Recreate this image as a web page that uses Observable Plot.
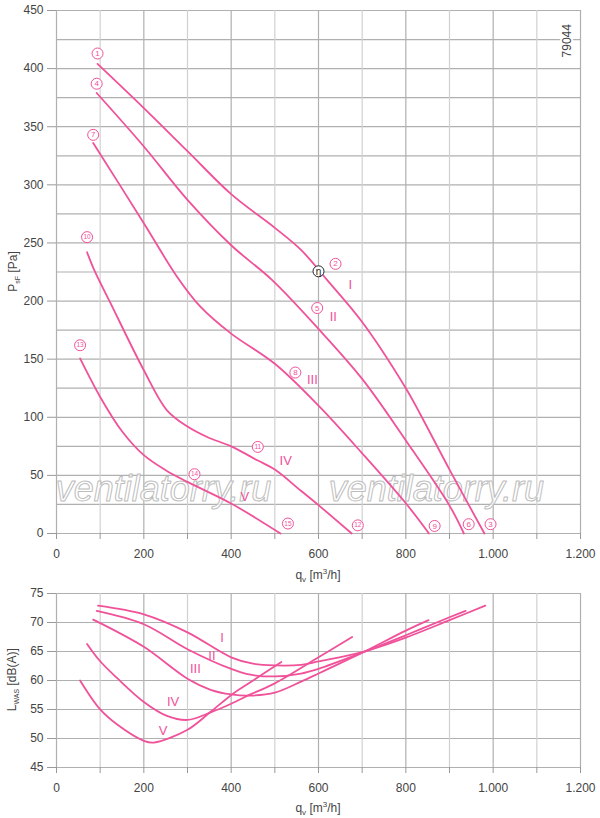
<!DOCTYPE html>
<html><head><meta charset="utf-8">
<script src="https://cdn.jsdelivr.net/npm/d3@7"></script>
<script src="https://cdn.jsdelivr.net/npm/@observablehq/plot@0.6"></script>
<style>
body{margin:0;background:#fff;}
#wrap{position:relative;width:600px;height:818px;font-family:"Liberation Sans",Arial,sans-serif;}
#topChart{position:absolute;left:0;top:0;}
#botChart{position:absolute;left:0;top:585px;}
</style></head><body><div id="wrap"><div id="topChart"></div><div id="botChart"></div></div>
<script>
// ---------- data: pressure curves (top) ----------
const speeds = ["I","II","III","IV","V"];
const pI_q   = [94,200,300,400,500,560,620,700,800,834,900,980];
const pI_v   = [404,366,329,292,263,244,218,182,125,102,55,0];
const pII_q  = [92,200,300,400,494,600,700,800,900,933];
const pII_v  = [379,333,287,248,218,176,133,80,24,0];
const pIII_q = [84,200,276,330,400,500,600,700,800,853];
const pIII_v = [336,267,221,195,172,146,110,69,26,0];
const pIV_q  = [70,86,124,200,253,300,345,400,460,500,559,600,676];
const pIV_v  = [242,227,198,140.5,106,92,83,75,63,55,37,24.4,0];
const pV_q   = [54,100,150,200,250,300,400,513];
const pV_v   = [150.6,117.5,88,67.4,54.5,44.4,25.8,0];

// ---------- data: sound power curves (bottom) ----------
const lI_q   = [95,200,300,400,450,500,560,600,700,800,900,982];
const lI_v   = [72.9,71.4,68.3,64.0,62.9,62.6,62.7,63.3,64.9,67.4,70.4,72.9];
const lII_q  = [92,200,300,400,444,500,560,600,700,800,900,937];
const lII_v  = [72.0,69.7,65.4,62.0,61.0,60.7,61.2,62.0,64.8,67.8,70.9,72.0];
const lIII_q = [84,100,200,300,353,400,444,500,560,600,700,800,852];
const lIII_v = [70.5,69.9,65.8,60.3,58.4,57.6,57.4,57.9,59.8,61.2,64.8,68.6,70.4];
const lIV_q  = [70,99,139,200,253,300,353,400,444,500,600,677];
const lIV_v  = [66.3,63.4,60.4,56.3,53.9,53.2,54.5,56.0,57.6,59.5,64.0,67.5];
const lV_q   = [54,99,139,200,223,300,353,402,444,515];
const lV_v   = [60.0,55.1,52.4,49.6,49.3,51.5,54.6,57.6,59.7,63.2];

// ---------- annotations ----------
const markerText = ["1","2","3","4","5","6","7","8","9","10","11","12","13","14","15"];
const markerQ    = [94,639,994,92,597,944,84,547,866,70,461,690,54,316,530];
const markerP    = [413,232,8,387,194,8,343,138.5,6.5,255,74.5,7,162,51,8.6];
const etaQ = [600], etaP = [225.6];
const romanTopQ = [673,634,586,525,431];
const romanTopP = [214,186,132,62.5,31.5];
const romanBotQ = [379,356,318,267,244];
const romanBotL = [67.4,64.3,62.0,56.4,51.3];
const wmQ = [245,870], wmP = [38,38];
const wmText = "ventilatorry.ru";
const codeText = "79044", codeQ = [1170], codeP = [424];

const xTicks = [0,100,200,300,400,500,600,700,800,900,1000,1100,1200];
const yTicksTop = [0,50,100,150,200,250,300,350,400,450];
const yGridTop = [0,25,50,75,100,125,150,175,200,225,250,275,300,325,350,375,400,425,450];
const yTicksBot = [45,50,55,60,65,70,75];

// ---------- helpers ----------
const pink = "#f0529a";
const zip = (s,q,v) => q.map((x,i)=>({s, q:x, v:v[i]}));
const pressure = [
  ...zip("I",pI_q,pI_v), ...zip("II",pII_q,pII_v), ...zip("III",pIII_q,pIII_v),
  ...zip("IV",pIV_q,pIV_v), ...zip("V",pV_q,pV_v)];
const sound = [
  ...zip("I",lI_q,lI_v), ...zip("II",lII_q,lII_v), ...zip("III",lIII_q,lIII_v),
  ...zip("IV",lIV_q,lIV_v), ...zip("V",lV_q,lV_v)];
const markers = markerText.map((t,i)=>({t, q:markerQ[i], v:markerP[i]}));
const etaPts = etaQ.map((q,i)=>({q, v:etaP[i]}));
const romTop = speeds.map((t,i)=>({t, q:romanTopQ[i], v:romanTopP[i]}));
const romBot = speeds.map((t,i)=>({t, q:romanBotQ[i], v:romanBotL[i]}));
const wm = wmQ.map((q,i)=>({q, v:wmP[i]}));
const codePts = codeQ.map((q,i)=>({q, v:codeP[i]}));
const fmtX = d => d % 200 !== 0 ? "" : (d >= 1000 ? d3.format(",")(d).replace(",", ".") : String(d));
const majorX = xTicks.filter(d => d % 200 === 0);
const minorX = xTicks.filter(d => d % 200 !== 0);
const gridMajor = "#b0b0b0", gridMinor = "#d0d0d0";
const style = {fontFamily:"'Liberation Sans',Arial,sans-serif", fontSize:"12px", color:"#444", background:"white", overflow:"visible"};

// ---------- top chart ----------
const topSvg = Plot.plot({
  width:600, height:585, marginLeft:56, marginRight:20, marginTop:10, marginBottom:52,
  x:{domain:[0,1200]}, y:{domain:[0,450]}, style,
  marks:[
    Plot.ruleY(yGridTop, {stroke:gridMajor, strokeWidth:1.2}),
    Plot.ruleX(minorX, {stroke:gridMinor, strokeWidth:1.2}),
    Plot.ruleX(majorX, {stroke:gridMajor, strokeWidth:1.2}),
    Plot.axisX({ticks:xTicks, tickFormat:fmtX, tickSize:6, tickPadding:10, label:null, stroke:"#999"}),
    Plot.axisY({ticks:yTicksTop, tickSize:9, tickPadding:4, label:null, stroke:"#999"}),
    Plot.text(wm, {x:"q", y:"v", text:()=>wmText, fontSize:36, fontStyle:"italic", fill:"white", fillOpacity:0.75, stroke:"#bdbdbd", strokeWidth:1, paintOrder:"fill"}),
    Plot.text(codePts, {x:"q", y:"v", text:()=>codeText, rotate:-90, fontSize:12, fill:"#444", stroke:"white", strokeWidth:4}),
    Plot.line(pressure, {x:"q", y:"v", z:"s", stroke:pink, strokeWidth:1.8, curve:"catmull-rom"}),
    Plot.dot(markers, {x:"q", y:"v", r:5.5, stroke:pink, fill:"white", strokeWidth:1}),
    Plot.text(markers, {x:"q", y:"v", text:"t", fill:pink, fontSize:d=>d.t.length>1?6.5:8}),
    Plot.dot(etaPts, {x:"q", y:"v", r:5.5, stroke:"#222", fill:"white", strokeWidth:1}),
    Plot.text(etaPts, {x:"q", y:"v", text:()=>"η", fill:"#222", fontSize:10}),
    Plot.text(romTop, {x:"q", y:"v", text:"t", fill:pink, fontSize:13})
  ]
});
document.getElementById("topChart").appendChild(topSvg);

// ---------- bottom chart ----------
const botSvg = Plot.plot({
  width:600, height:233, marginLeft:56, marginRight:20, marginTop:8, marginBottom:51,
  x:{domain:[0,1200]}, y:{domain:[45,75]}, style,
  marks:[
    Plot.ruleY(yTicksBot, {stroke:gridMajor, strokeWidth:1.2}),
    Plot.ruleX(minorX, {stroke:gridMinor, strokeWidth:1.2}),
    Plot.ruleX(majorX, {stroke:gridMajor, strokeWidth:1.2}),
    Plot.axisX({ticks:xTicks, tickFormat:fmtX, tickSize:6, tickPadding:10, label:null, stroke:"#999"}),
    Plot.axisY({ticks:yTicksBot, tickSize:9, tickPadding:4, label:null, stroke:"#999"}),
    Plot.line(sound, {x:"q", y:"v", z:"s", stroke:pink, strokeWidth:1.8, curve:"catmull-rom"}),
    Plot.text(romBot, {x:"q", y:"v", text:"t", fill:pink, fontSize:13})
  ]
});
document.getElementById("botChart").appendChild(botSvg);

// ---------- axis titles with sub/superscripts ----------
function xTitle(svg, cx, cy){
  const t = d3.select(svg).append("text").attr("x",cx).attr("y",cy).attr("text-anchor","middle")
    .attr("fill","#444").attr("font-size",12);
  t.append("tspan").text("q");
  t.append("tspan").attr("font-size",8).attr("dy",3).text("v");
  t.append("tspan").attr("dy",-3).text(" [m");
  t.append("tspan").attr("font-size",8).attr("dy",-5).text("3");
  t.append("tspan").attr("dy",5).text("/h]");
}
function yTitle(svg, cx, cy, main, sub, rest){
  const t = d3.select(svg).append("text").attr("transform",`translate(${cx},${cy}) rotate(-90)`)
    .attr("y",4).attr("text-anchor","middle").attr("fill","#444").attr("font-size",12);
  t.append("tspan").text(main);
  t.append("tspan").attr("font-size",7).attr("dy",3).text(sub);
  t.append("tspan").attr("dy",-3).text(rest);
}
xTitle(topSvg, 318, 579);
yTitle(topSvg, 13, 271.5, "P", "sF", " [Pa]");
xTitle(botSvg, 318, 227);
yTitle(botSvg, 12, 94.7, "L", "WAS", " [dB(A)]");
</script></body></html>
